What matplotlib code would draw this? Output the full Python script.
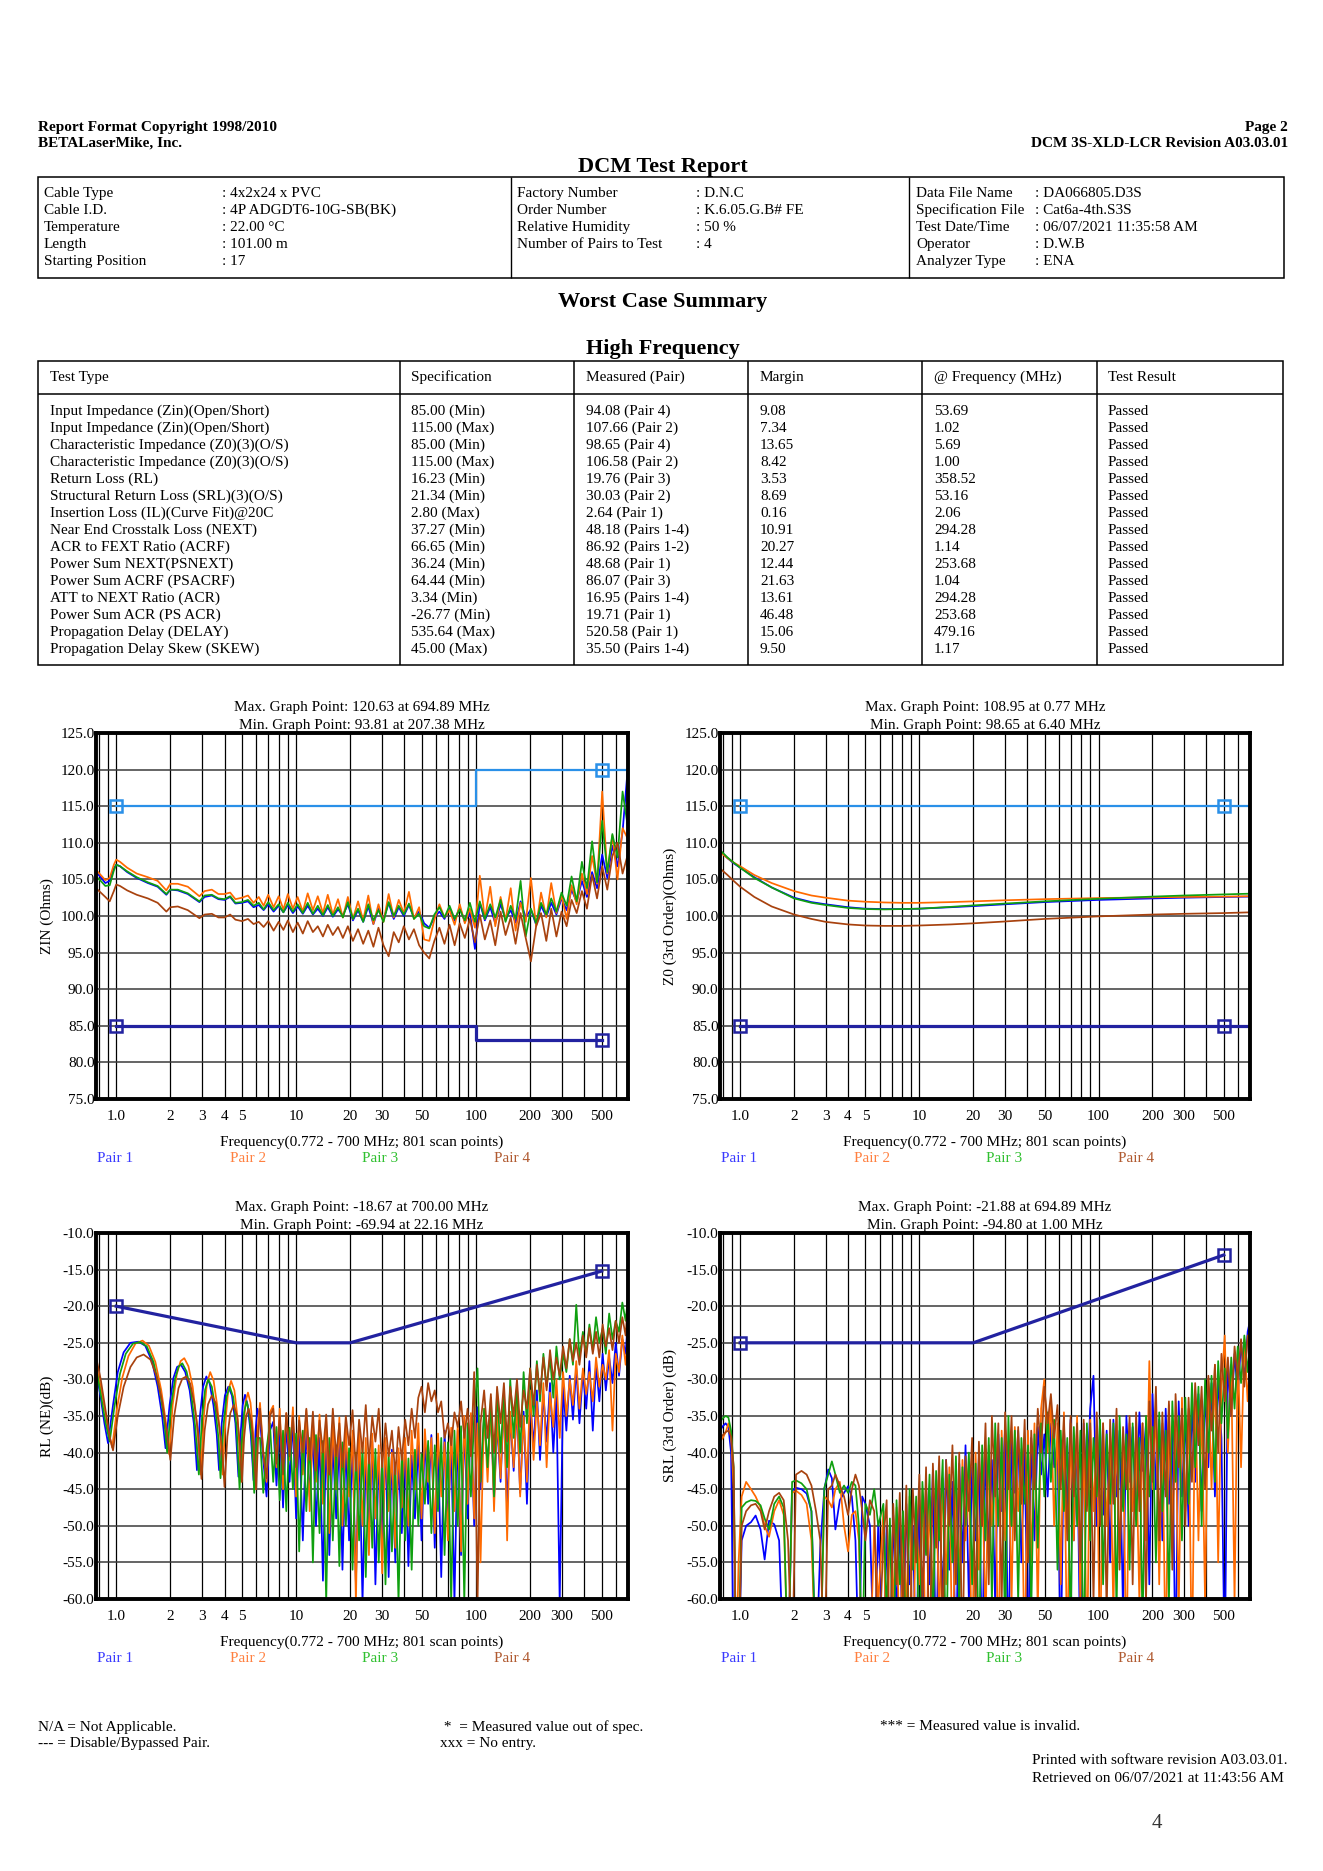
import matplotlib
matplotlib.use('Agg')
import matplotlib.pyplot as plt
from matplotlib.patches import Rectangle
from matplotlib.ticker import NullLocator

plt.rcParams['font.family'] = ['Liberation Serif', 'DejaVu Serif']

# ---------------------------------------------------------------- data
PAIRS = ['Pair 1', 'Pair 2', 'Pair 3', 'Pair 4']

INFO_LEFT = [('Cable Type', ': 4x2x24 x PVC'), ('Cable I.D.', ': 4P ADGDT6-10G-SB(BK)'),
             ('Temperature', ': 22.00 °C'), ('Length', ': 101.00 m'), ('Starting Position', ': 17')]
INFO_MID = [('Factory Number', ': D.N.C'), ('Order Number', ': K.6.05.G.B# FE'),
            ('Relative Humidity', ': 50 %'), ('Number of Pairs to Test', ': 4')]
INFO_RIGHT = [('Data File Name', ': DA066805.D3S'), ('Specification File', ': Cat6a-4th.S3S'),
              ('Test Date/Time', ': 06/07/2021 11:35:58 AM'), ('Operator', ': D.W.B'),
              ('Analyzer Type', ': ENA')]

TABLE_HEAD = ['Test Type', 'Specification', 'Measured (Pair)', 'Margin', '@ Frequency (MHz)', 'Test Result']
TEST_TYPE = ['Input Impedance (Zin)(Open/Short)', 'Input Impedance (Zin)(Open/Short)',
             'Characteristic Impedance (Z0)(3)(O/S)', 'Characteristic Impedance (Z0)(3)(O/S)',
             'Return Loss (RL)', 'Structural Return Loss (SRL)(3)(O/S)',
             'Insertion Loss (IL)(Curve Fit)@20C', 'Near End Crosstalk Loss (NEXT)',
             'ACR to FEXT Ratio (ACRF)', 'Power Sum NEXT(PSNEXT)', 'Power Sum ACRF (PSACRF)',
             'ATT to NEXT Ratio (ACR)', 'Power Sum ACR (PS ACR)', 'Propagation Delay (DELAY)',
             'Propagation Delay Skew (SKEW)']
SPEC = ['85.00 (Min)', '115.00 (Max)', '85.00 (Min)', '115.00 (Max)', '16.23 (Min)', '21.34 (Min)',
        '2.80 (Max)', '37.27 (Min)', '66.65 (Min)', '36.24 (Min)', '64.44 (Min)', '3.34 (Min)',
        '-26.77 (Min)', '535.64 (Max)', '45.00 (Max)']
MEASURED = ['94.08 (Pair 4)', '107.66 (Pair 2)', '98.65 (Pair 4)', '106.58 (Pair 2)', '19.76 (Pair 3)',
            '30.03 (Pair 2)', '2.64 (Pair 1)', '48.18 (Pairs 1-4)', '86.92 (Pairs 1-2)',
            '48.68 (Pair 1)', '86.07 (Pair 3)', '16.95 (Pairs 1-4)', '19.71 (Pair 1)',
            '520.58 (Pair 1)', '35.50 (Pairs 1-4)']
MARGIN = ['9.08', '7.34', '13.65', '8.42', '3.53', '8.69', '0.16', '10.91', '20.27', '12.44',
          '21.63', '13.61', '46.48', '15.06', '9.50']
AT_FREQ = ['53.69', '1.02', '5.69', '1.00', '358.52', '53.16', '2.06', '294.28', '1.14', '253.68',
           '1.04', '294.28', '253.68', '479.16', '1.17']
RESULT = ['Passed'] * 15

XTICKS = [1, 2, 3, 4, 5, 10, 20, 30, 50, 100, 200, 300, 500]
XTICK_LABELS = ['1.0', '2', '3', '4', '5', '10', '20', '30', '50', '100', '200', '300', '500']
GRID_X = [0.8, 0.9, 1, 2, 3, 4, 5, 6, 7, 8, 9, 10, 20, 30, 40, 50, 60, 70, 80, 90,
          100, 200, 300, 400, 500, 600, 700]

# ---- ZIN chart
ZIN_F = [0.772, 0.82, 0.87, 0.92, 0.97, 1.0, 1.05, 1.15, 1.3, 1.5, 1.7, 1.9, 2.0, 2.2, 2.5, 2.9,
         3.1, 3.4, 3.7, 4.0, 4.3, 4.6, 5.0, 5.4, 5.8, 6.2, 6.6, 7.0, 7.5, 8.0, 8.5, 9.0, 9.6,
         10.2, 10.9, 11.6, 12.4, 13.2, 14.1, 15.0, 16.0, 17.1, 18.2, 19.4, 20.7, 22.1, 23.6,
         25.2, 26.9, 28.7, 30.6, 32.7, 34.9, 37.2, 39.7, 42.4, 45.2, 48.3, 51.5, 55.0, 58.7,
         62.6, 66.8, 71.3, 76.1, 81.2, 86.7, 92.5, 98.7, 105, 112, 120, 128, 137, 146, 156,
         166, 177, 189, 202, 216, 230, 246, 262, 280, 299, 319, 340, 363, 388, 414, 442, 471,
         503, 537, 573, 612, 653, 700]
ZIN_P1 = [106.0, 105.3, 104.5, 104.8, 106.5, 107.0, 106.8, 106.0, 105.2, 104.5, 104.0, 102.9, 103.6,
          103.5, 103.0, 101.9, 102.6, 102.8, 102.3, 102.2, 102.6, 101.7, 101.8, 102.0, 101.2, 101.5,
          100.8, 101.6, 100.6, 101.4, 100.5, 101.5, 100.4, 101.3, 100.3, 101.4, 100.2, 101.0, 100.0,
          101.2, 99.9, 100.9, 100.1, 101.6, 99.4, 100.8, 99.2, 101.3, 98.9, 101.0, 99.5, 101.8, 99.6,
          101.2, 100.0, 101.5, 99.8, 100.6, 99.0, 98.4, 99.8, 100.6, 99.6, 101.0, 99.4, 101.2, 99.2,
          100.5, 95.5, 101.8, 99.4, 101.2, 99.0, 101.6, 99.6, 100.8, 99.1, 102.0, 99.8, 100.9, 98.8,
          101.4, 99.9, 101.8, 100.2, 102.4, 100.8, 103.6, 101.9, 104.8, 102.6, 106.0, 103.8, 108.4,
          105.2, 109.6, 106.8, 111.5, 120.6]
ZIN_P2 = [106.3, 105.6, 104.9, 105.2, 107.0, 107.7, 107.4, 106.6, 105.8, 105.3, 104.8, 103.5, 104.4,
          104.4, 104.0, 102.7, 103.4, 103.6, 103.0, 103.0, 103.2, 102.3, 102.5, 102.8, 101.8, 102.6,
          101.4, 102.9, 101.2, 102.7, 100.9, 103.0, 101.0, 102.6, 100.6, 103.1, 100.8, 102.7, 100.4,
          102.9, 100.2, 102.3, 99.8, 102.6, 99.6, 102.0, 99.4, 102.8, 98.9, 101.6, 99.2, 103.0, 99.8,
          102.2, 100.4, 103.3, 99.6, 101.2, 96.8, 96.6, 99.5, 101.6, 99.8, 100.8, 98.8, 101.6, 99.0,
          101.0, 98.4, 105.5, 99.6, 104.0, 98.6, 102.6, 99.4, 103.8, 98.0, 101.8, 99.2, 105.2, 98.6,
          103.2, 99.8, 104.5, 100.4, 102.8, 99.6, 104.2, 101.6, 105.8, 103.0, 108.2, 104.4, 117.0,
          105.8, 111.0, 105.0, 112.0, 110.5]
ZIN_P3 = [105.4, 104.8, 104.1, 104.2, 106.2, 107.0, 106.8, 106.1, 105.3, 104.6, 104.1, 103.0, 103.6,
          103.6, 103.1, 102.0, 102.8, 102.9, 102.4, 102.3, 102.7, 101.8, 101.9, 102.2, 101.4, 101.8,
          100.9, 101.9, 100.8, 101.6, 100.5, 101.8, 100.6, 101.6, 100.4, 101.8, 100.3, 101.4, 100.1,
          101.5, 100.0, 101.2, 99.8, 101.9, 99.6, 101.0, 99.2, 101.6, 99.4, 100.8, 99.2, 101.9, 100.0,
          101.4, 100.2, 101.7, 99.6, 100.3, 98.6, 98.3, 100.2, 101.2, 99.8, 101.4, 99.6, 100.9, 99.4,
          101.8, 99.2, 102.0, 99.6, 101.6, 99.8, 102.2, 99.2, 101.4, 99.6, 104.8, 97.2, 101.0, 99.0,
          101.8, 100.2, 102.4, 100.6, 103.2, 101.4, 105.4, 102.0, 107.4, 103.8, 110.2, 104.6, 113.0,
          106.0, 111.2, 108.0, 117.0, 112.0]
ZIN_P4 = [103.8, 103.2, 102.6, 102.0, 103.4, 104.3, 104.1, 103.5, 102.9, 102.4, 101.8, 100.6, 101.2,
          101.3, 100.8, 99.7, 100.2, 100.3, 99.8, 99.8, 100.2, 99.5, 99.3, 99.6, 98.9, 99.2, 98.5,
          99.3, 98.0, 99.2, 98.1, 99.4, 97.8, 99.1, 97.6, 99.3, 97.8, 98.6, 97.2, 98.8, 97.4, 98.5,
          97.0, 98.6, 96.6, 98.2, 96.2, 98.0, 95.8, 98.4, 96.0, 94.5, 97.8, 96.4, 98.6, 96.8, 98.2,
          96.0, 95.0, 94.2, 96.6, 98.4, 96.2, 98.8, 96.0, 99.0, 97.0, 99.6, 96.4, 100.2, 96.8, 99.4,
          96.0, 100.6, 97.4, 99.8, 96.2, 100.4, 97.0, 93.8, 98.6, 100.4, 96.6, 101.0, 97.2, 100.6,
          98.6, 102.2, 100.4, 103.4, 101.0, 105.6, 102.4, 106.8, 103.6, 108.2, 110.0, 105.8, 108.5]

# ---- Z0 chart
Z0_F = [0.772, 0.85, 0.92, 1.0, 1.2, 1.5, 2.0, 2.5, 3.0, 4.0, 5.0, 6.4, 8.0, 10, 15, 20, 30, 50,
        100, 200, 300, 500, 700]
Z0_P1 = [108.9, 107.9, 107.2, 106.6, 105.3, 103.9, 102.5, 101.9, 101.6, 101.2, 101.0, 100.95, 100.95,
         101.0, 101.2, 101.35, 101.6, 101.9, 102.2, 102.4, 102.5, 102.6, 102.65]
Z0_P2 = [108.7, 107.9, 107.3, 106.8, 105.6, 104.5, 103.4, 102.8, 102.5, 102.1, 101.95, 101.85, 101.8,
         101.8, 101.9, 102.0, 102.15, 102.3, 102.45, 102.55, 102.6, 102.65, 102.7]
Z0_P3 = [109.0, 108.0, 107.3, 106.6, 105.2, 103.9, 102.4, 101.8, 101.5, 101.1, 100.95, 100.9, 100.95,
         101.0, 101.25, 101.45, 101.7, 102.0, 102.35, 102.65, 102.8, 102.95, 103.05]
Z0_P4 = [106.5, 105.6, 104.8, 104.0, 102.6, 101.3, 100.2, 99.6, 99.2, 98.85, 98.7, 98.65, 98.65,
         98.7, 98.85, 99.0, 99.25, 99.6, 99.95, 100.2, 100.3, 100.4, 100.5]

# ---- shared high-frequency scan points (RL and SRL charts)
HF = [6.3, 6.57, 6.85, 7.15, 7.46, 7.78, 8.11, 8.46, 8.82, 9.2,
      9.6, 10.0, 10.4, 10.9, 11.4, 11.9, 12.4, 12.9, 13.5, 14.1,
      14.7, 15.3, 16.0, 16.7, 17.4, 18.1, 18.9, 19.7, 20.6, 21.5,
      22.4, 23.4, 24.4, 25.4, 26.5, 27.6, 28.8, 30.1, 31.4, 32.7,
      34.1, 35.6, 37.1, 38.7, 40.4, 42.1, 43.9, 45.8, 47.8, 49.8,
      52.0, 54.2, 56.5, 59.0, 61.5, 64.1, 66.9, 69.8, 72.8, 75.9,
      79.2, 82.6, 86.1, 89.8, 93.7, 97.7, 102, 106, 111, 116,
      121, 126, 131, 137, 143, 149, 155, 162, 169, 176,
      184, 192, 200, 209, 218, 227, 237, 247, 258, 269,
      280, 292, 305, 318, 332, 346, 361, 376, 393, 410,
      427, 446, 465, 485, 506, 527, 550, 574, 598, 624,
      651, 679, 700]

# ---- RL chart, low-frequency lobes (own scan points per pair)
RL_LF_P1 = [0.772, 0.82, 0.86, 0.90, 0.96, 1.02, 1.10, 1.20, 1.33, 1.45, 1.58, 1.70, 1.80, 1.88,
            1.98, 2.08, 2.18, 2.29, 2.42, 2.56, 2.70, 2.81, 2.92, 3.04, 3.17, 3.31, 3.47, 3.62,
            3.73, 3.86, 4.02, 4.20, 4.40, 4.60, 4.78, 4.93, 5.05, 5.20, 5.38, 5.60, 5.80, 5.95, 6.10]
RL_LV_P1 = [-28.7, -32.5, -36.0, -38.7, -33.5, -29.0, -26.3, -25.0, -24.85, -25.4, -27.5, -31.0,
            -35.0, -39.4, -33.5, -29.8, -28.3, -28.0, -29.0, -31.5, -36.0, -42.4, -35.0, -31.0,
            -29.6, -30.6, -33.5, -37.5, -42.4, -36.0, -32.2, -31.0, -32.2, -36.0, -43.3, -37.0,
            -33.5, -32.1, -33.5, -37.5, -43.8, -37.0, -34.0]
RL_LF_P2 = [0.772, 0.82, 0.87, 0.91, 0.95, 1.01, 1.08, 1.17, 1.28, 1.40, 1.52, 1.65, 1.78, 1.88,
            1.97, 2.06, 2.17, 2.28, 2.39, 2.52, 2.66, 2.81, 2.95, 3.07, 3.19, 3.33, 3.48, 3.64,
            3.78, 3.90, 4.04, 4.19, 4.35, 4.54, 4.74, 4.95, 5.10, 5.24, 5.40, 5.58, 5.78, 5.95, 6.12]
RL_LV_P2 = [-28.0, -31.0, -34.5, -37.5, -39.3, -34.0, -29.8, -26.8, -25.1, -24.7, -25.4, -27.6,
            -31.5, -35.5, -40.2, -33.5, -29.3, -27.5, -27.1, -28.2, -31.0, -36.0, -43.0, -35.0,
            -30.6, -29.0, -30.2, -33.5, -37.5, -43.0, -36.0, -31.6, -30.2, -31.5, -35.5, -44.0,
            -37.0, -33.0, -31.8, -33.2, -37.5, -45.0, -36.5]
RL_LF_P3 = [0.772, 0.82, 0.87, 0.92, 0.98, 1.05, 1.13, 1.24, 1.36, 1.48, 1.61, 1.74, 1.84, 1.92,
            2.02, 2.12, 2.22, 2.33, 2.46, 2.60, 2.75, 2.88, 3.00, 3.12, 3.25, 3.40, 3.56, 3.70,
            3.80, 3.94, 4.10, 4.28, 4.47, 4.67, 4.85, 5.00, 5.14, 5.30, 5.48, 5.68, 5.85, 6.02]
RL_LV_P3 = [-28.4, -32.0, -35.8, -38.5, -33.5, -29.2, -26.5, -25.1, -24.9, -25.5, -27.6, -31.3,
            -35.2, -40.0, -33.6, -30.0, -28.3, -27.8, -28.9, -31.6, -36.5, -43.0, -35.2, -31.4,
            -30.0, -31.0, -34.0, -38.0, -43.5, -36.5, -32.4, -31.0, -32.4, -36.5, -45.0, -38.0,
            -34.5, -33.0, -34.5, -38.5, -45.5, -38.0]
RL_LF_P4 = [0.772, 0.82, 0.87, 0.92, 0.96, 1.02, 1.10, 1.20, 1.30, 1.42, 1.55, 1.68, 1.80, 1.90,
            2.00, 2.10, 2.22, 2.33, 2.45, 2.58, 2.72, 2.86, 2.98, 3.10, 3.24, 3.40, 3.57, 3.75,
            3.88, 4.00, 4.15, 4.31, 4.50, 4.70, 4.86, 5.00, 5.14, 5.28, 5.45, 5.64, 5.82, 6.00, 6.15]
RL_LV_P4 = [-26.9, -30.0, -34.0, -37.8, -39.7, -35.0, -31.0, -28.3, -27.0, -26.6, -27.3, -29.6,
            -33.0, -36.8, -41.0, -35.0, -31.2, -29.9, -29.6, -30.6, -33.4, -37.5, -43.6, -37.0,
            -33.4, -32.2, -33.2, -36.6, -39.5, -44.7, -37.8, -34.6, -33.5, -35.0, -38.5, -44.0,
            -38.0, -35.0, -34.0, -35.8, -39.5, -45.0, -38.0]
# RL chart, high-frequency part on HF scan points
RL_HV_P1 = [-35.5, -41.0, -46.0, -37.0, -35.8, -44.5, -36.2, -47.5, -36.0, -44.0,
            -35.6, -49.0, -37.0, -52.0, -36.4, -46.0, -37.5, -50.0, -38.0, -57.5,
            -37.2, -54.0, -38.6, -49.0, -37.8, -56.0, -38.4, -52.0, -39.0, -58.0,
            -38.2, -60.5, -40.0, -51.0, -38.5, -58.0, -40.5, -53.0, -39.0, -57.0,
            -39.6, -55.0, -41.0, -51.0, -39.0, -55.5, -40.4, -49.0, -38.6, -52.0,
            -38.0, -47.0, -37.6, -53.0, -38.8, -57.0, -37.0, -50.0, -38.4, -60.5,
            -37.0, -54.0, -36.4, -49.0, -35.0, -50.0, -33.8, -45.0, -35.0, -42.0,
            -34.0, -46.5, -36.0, -44.0, -33.0, -48.0, -35.0, -42.5, -33.6, -45.5,
            -34.4, -47.0, -33.0, -39.0, -31.5, -41.0, -32.0, -38.5, -30.5, -40.0,
            -32.0, -60.5, -31.0, -37.0, -29.5, -35.5, -28.5, -36.0, -29.0, -34.0,
            -27.5, -37.0, -28.0, -33.0, -26.5, -31.5, -27.0, -30.5, -25.0, -29.5,
            -24.5, -26.5, -21.5]
RL_HV_P2 = [-33.2, -40.0, -44.0, -34.5, -33.6, -42.0, -34.0, -45.0, -34.6, -41.0,
            -33.8, -46.0, -35.0, -43.0, -34.2, -48.0, -35.6, -44.0, -34.8, -47.0,
            -35.4, -51.0, -36.0, -45.0, -35.2, -50.0, -36.4, -46.0, -37.0, -60.5,
            -36.6, -50.0, -38.0, -54.0, -37.4, -49.0, -39.0, -56.5, -38.0, -48.0,
            -40.0, -53.0, -39.4, -47.5, -38.0, -50.0, -37.0, -45.0, -36.0, -49.0,
            -36.8, -44.0, -38.0, -51.0, -37.4, -46.0, -38.6, -52.0, -36.6, -48.0,
            -36.0, -53.5, -35.0, -47.0, -34.6, -49.0, -36.0, -55.0, -34.0, -44.0,
            -33.4, -48.0, -35.0, -43.5, -32.5, -52.0, -34.4, -42.0, -33.0, -46.0,
            -35.0, -44.0, -31.5, -41.0, -33.0, -39.0, -30.5, -42.0, -31.8, -36.5,
            -30.0, -38.0, -29.0, -35.0, -30.0, -33.5, -27.5, -34.0, -28.5, -32.0,
            -29.0, -33.0, -27.0, -31.0, -28.0, -30.0, -26.0, -37.0, -26.5, -29.0,
            -24.0, -28.0, -24.5]
RL_HV_P3 = [-38.0, -45.5, -39.5, -36.0, -44.0, -36.5, -46.5, -37.0, -48.0, -36.6,
            -45.0, -37.4, -53.5, -37.0, -48.0, -38.0, -55.0, -37.6, -51.0, -38.4,
            -60.5, -38.0, -52.0, -39.0, -55.5, -38.6, -50.0, -39.4, -56.0, -40.0,
            -52.0, -39.0, -57.0, -40.6, -53.0, -39.5, -55.0, -41.0, -58.0, -40.0,
            -53.5, -41.4, -60.5, -40.0, -52.0, -40.8, -56.0, -39.6, -50.0, -40.2,
            -47.0, -38.4, -51.0, -39.0, -48.0, -38.0, -54.0, -38.6, -60.5, -37.0,
            -50.0, -36.4, -60.5, -36.0, -46.0, -35.0, -28.5, -44.0, -34.0, -42.0,
            -32.5, -46.0, -31.5, -40.0, -32.0, -42.0, -30.0, -38.0, -31.0, -40.0,
            -29.0, -36.0, -28.5, -35.0, -27.5, -33.0, -26.5, -31.0, -27.0, -32.5,
            -25.5, -30.0, -26.5, -29.0, -24.5, -28.0, -19.8, -27.0, -23.5, -26.5,
            -22.5, -26.0, -21.5, -25.0, -23.0, -26.5, -21.0, -24.5, -22.0, -23.5,
            -19.5, -22.0, -18.7]
RL_HV_P4 = [-34.0, -40.0, -43.5, -35.0, -34.0, -41.5, -35.0, -43.0, -34.6, -40.5,
            -35.0, -42.0, -35.6, -40.0, -34.0, -41.0, -34.4, -42.5, -35.6, -40.0,
            -34.8, -43.0, -34.0, -40.5, -36.0, -42.0, -35.0, -39.0, -34.2, -42.5,
            -35.5, -40.0, -33.5, -41.5, -35.0, -38.5, -34.0, -42.0, -36.0, -40.5,
            -37.0, -43.0, -36.5, -41.0, -35.5, -39.0, -34.0, -38.0, -32.5, -31.0,
            -34.5, -30.5, -33.0, -31.5, -34.5, -33.0, -38.0, -36.0, -39.0, -34.5,
            -36.5, -33.0, -38.0, -34.0, -40.5, -29.0, -60.5, -36.0, -31.5, -38.0,
            -32.0, -40.0, -31.0, -36.0, -30.5, -38.5, -31.0, -35.0, -30.0, -36.5,
            -31.5, -34.0, -28.5, -33.5, -28.0, -32.0, -27.0, -31.5, -26.0, -30.0,
            -27.0, -29.5, -25.5, -28.5, -24.5, -27.5, -25.0, -28.0, -24.0, -27.0,
            -23.0, -26.5, -23.5, -27.0, -22.5, -25.5, -23.0, -26.0, -22.0, -25.0,
            -21.5, -24.0, -19.0]

# ---- SRL chart, low-frequency scan points (shared)
SRL_LF = [0.772, 0.80, 0.83, 0.86, 0.89, 0.92, 0.95, 0.98, 1.02, 1.08, 1.15, 1.22, 1.30, 1.37,
          1.45, 1.55, 1.65, 1.75, 1.85, 1.95, 2.05, 2.2, 2.35, 2.5, 2.65, 2.8, 2.95, 3.1, 3.25,
          3.4, 3.6, 3.8, 4.0, 4.2, 4.4, 4.6, 4.8, 5.0, 5.3, 5.6, 5.9]
SRL_LV_P1 = [-37.0, -36.4, -36.0, -36.5, -40.0, -70.0, -70.0, -70.0, -52.0, -50.0, -49.5, -48.6,
             -50.5, -54.6, -49.3, -49.8, -52.0, -70.0, -70.0, -45.2, -44.8, -45.0, -45.6, -48.0,
             -70.0, -53.0, -45.0, -42.3, -43.5, -50.5, -46.5, -45.5, -44.6, -46.0, -52.0, -70.0,
             -46.0, -47.0, -50.0, -70.0, -49.5]
SRL_LV_P2 = [-38.5, -38.0, -37.2, -36.0, -37.5, -45.0, -70.0, -55.0, -46.0, -44.0, -45.0, -46.0,
             -47.5, -50.0, -51.5, -48.0, -46.5, -48.5, -70.0, -45.5, -45.2, -45.8, -47.0, -52.0,
             -70.0, -70.0, -46.0, -46.5, -47.5, -45.0, -44.0, -50.0, -53.5, -48.5, -48.0, -52.0,
             -70.0, -70.0, -70.0, -50.0, -60.5]
SRL_LV_P3 = [-35.8, -35.3, -35.0, -35.2, -37.0, -42.0, -70.0, -70.0, -47.5, -46.8, -46.5, -46.6,
             -47.2, -49.0, -50.5, -47.0, -46.0, -47.5, -70.0, -44.0, -43.8, -44.2, -45.0, -48.0,
             -70.0, -70.0, -44.8, -43.0, -41.2, -43.0, -45.5, -44.5, -45.5, -44.0, -44.5, -50.0,
             -70.0, -47.0, -48.5, -45.0, -50.0]
SRL_LV_P4 = [-38.0, -37.6, -37.2, -37.0, -37.8, -42.0, -70.0, -70.0, -50.0, -48.0, -47.2, -47.0,
             -48.0, -50.5, -48.0, -46.0, -45.5, -46.5, -52.0, -70.0, -43.0, -42.5, -43.0, -44.5,
             -48.0, -52.0, -70.0, -45.0, -44.5, -43.0, -44.5, -46.0, -48.5, -45.0, -43.0, -44.5,
             -48.0, -52.0, -46.5, -48.0, -70.0]
# SRL chart, high-frequency part on HF scan points
SRL_HV_P1 = [-70, -50.0, -70, -48.5, -62, -49.5, -70, -47.0, -58.0, -50.0,
             -70, -46.5, -65, -44.5, -58.0, -42.5, -70, -45.0, -60.5, -41.0,
             -56.0, -44.0, -70, -41.5, -55.0, -39.0, -60.5, -42.0, -52.0, -40.5,
             -70, -39.5, -53.0, -41.0, -61.0, -37.5, -48.0, -36.5, -70, -38.0,
             -45.5, -37.0, -55.0, -39.0, -70, -38.0, -52.0, -36.5, -43.0, -37.5,
             -46.0, -36.0, -42.0, -38.5, -70, -36.5, -48.0, -35.5, -52.0, -37.0,
             -70, -36.0, -45.0, -34.0, -29.5, -50.0, -36.5, -48.5, -37.0, -55.0,
             -35.5, -46.0, -37.0, -62.0, -35.0, -44.0, -36.5, -49.0, -34.5, -42.5,
             -36.0, -58.0, -32.0, -45.0, -35.5, -52.0, -34.0, -47.0, -36.5, -70,
             -33.0, -46.0, -35.0, -50.0, -33.5, -44.0, -32.0, -48.0, -31.5, -42.0,
             -30.5, -46.0, -29.5, -38.0, -70, -27.5, -35.0, -26.5, -32.0, -25.0,
             -30.0, -23.5, -22.0]
SRL_HV_P2 = [-48.0, -70, -50.0, -60.5, -47.5, -70, -48.5, -62, -46.0, -70,
             -47.0, -58.0, -45.0, -70, -46.0, -60.5, -44.0, -63, -43.5, -58.0,
             -42.0, -70, -44.5, -57.0, -41.0, -52.0, -43.5, -70, -40.0, -56.0,
             -41.5, -64, -39.0, -50.0, -40.5, -70, -37.0, -52.0, -38.5, -60.5,
             -36.5, -48.0, -39.5, -70, -37.0, -55.0, -36.0, -62, -34.0, -30.0,
             -40.0, -33.0, -50.0, -36.0, -58.0, -34.5, -70, -36.0, -52.0, -35.0,
             -61, -37.0, -70, -35.5, -48.0, -37.0, -70, -36.0, -50.0, -38.0,
             -62, -35.0, -55.0, -37.5, -70, -36.0, -48.0, -39.0, -60.5, -36.0,
             -52.0, -27.5, -45.0, -34.0, -58.0, -36.0, -70, -33.5, -50.0, -35.0,
             -62, -32.5, -48.0, -34.0, -70, -31.5, -52.0, -33.0, -60.5, -30.0,
             -45.0, -28.0, -55.0, -31.0, -24.0, -40.0, -28.0, -60.5, -26.0, -42.0,
             -24.5, -33.0, -27.5]
SRL_HV_P3 = [-47.0, -62, -49.0, -70, -46.5, -58.0, -48.0, -70, -45.0, -56.0,
             -46.0, -70, -44.0, -54.0, -43.0, -65, -42.5, -52.0, -41.0, -70,
             -43.0, -55.0, -40.5, -62, -42.0, -50.0, -40.0, -58.0, -41.5, -70,
             -39.0, -52.0, -38.0, -60.5, -36.0, -50.0, -38.0, -65, -35.0, -50.0,
             -37.0, -60.5, -38.0, -47.0, -39.0, -62, -37.5, -53.0, -36.0, -46.0,
             -34.5, -44.0, -35.5, -56.0, -37.0, -48.0, -38.0, -64, -36.5, -50.0,
             -37.0, -70, -36.0, -52.0, -38.0, -46.0, -35.5, -58.0, -37.5, -47.0,
             -36.0, -62, -35.0, -48.0, -37.5, -56.0, -36.0, -50.0, -38.0, -64,
             -35.0, -46.0, -36.5, -55.0, -34.5, -48.0, -37.0, -60.5, -33.0, -44.0,
             -35.0, -52.0, -32.5, -47.0, -30.5, -42.0, -31.0, -50.0, -30.0, -40.0,
             -29.5, -44.0, -27.5, -36.0, -28.5, -38.0, -27.0, -34.0, -25.5, -30.5,
             -24.0, -29.0, -25.0]
SRL_HV_P4 = [-52.0, -46.5, -70, -47.0, -58.0, -45.5, -62, -44.5, -70, -45.0,
             -55.0, -43.0, -60.5, -42.0, -70, -41.5, -53.0, -40.5, -65, -41.0,
             -50.0, -39.0, -58.0, -40.0, -70, -40.5, -48.0, -38.0, -62, -38.5,
             -50.0, -36.0, -58.0, -35.0, -46.0, -36.0, -60.5, -34.5, -45.0, -35.0,
             -52.0, -36.5, -47.0, -35.5, -55.0, -37.0, -45.0, -34.0, -40.0, -31.0,
             -36.0, -32.0, -38.0, -33.5, -45.0, -35.0, -52.0, -35.0, -46.0, -36.0,
             -55.0, -35.5, -48.0, -36.0, -60.5, -34.5, -50.0, -36.0, -62, -35.5,
             -47.0, -34.0, -56.0, -36.5, -45.0, -35.0, -58.0, -34.5, -48.0, -36.0,
             -60.5, -33.0, -44.0, -31.0, -52.0, -34.5, -46.0, -33.0, -56.0, -32.0,
             -42.0, -34.0, -50.0, -32.5, -44.0, -30.5, -39.0, -31.0, -45.0, -29.5,
             -37.0, -28.0, -40.0, -26.5, -33.0, -27.0, -35.0, -25.5, -30.0, -24.5,
             -31.0, -24.0, -26.0]

# spec limit lines (frequency, value) and marker points
ZIN_UP_F, ZIN_UP_V = [1, 100, 100, 700], [115, 115, 120, 120]
ZIN_UP_MF, ZIN_UP_MV = [1, 500], [115, 120]
ZIN_LO_F, ZIN_LO_V = [1, 100, 100, 500], [85, 85, 83, 83]
ZIN_LO_MF, ZIN_LO_MV = [1, 500], [85, 83]
Z0_UP_F, Z0_UP_V = [1, 700], [115, 115]
Z0_LO_F, Z0_LO_V = [1, 700], [85, 85]
Z0_MF, Z0_UP_MV, Z0_LO_MV = [1, 500], [115, 115], [85, 85]
RL_LIM_F, RL_LIM_V = [1, 10, 20, 500], [-20, -25, -25, -15.2]
RL_LIM_MF, RL_LIM_MV = [1, 500], [-20, -15.2]
SRL_LIM_F, SRL_LIM_V = [1, 20, 500], [-25, -25, -13]
SRL_LIM_MF, SRL_LIM_MV = [1, 500], [-25, -13]

# ---------------------------------------------------------------- style
W, H = 1323, 1871
C_PAIR = ['#0000ff', '#ff6a00', '#10a010', '#a8420e']
C_LEG = ['#3a3aff', '#ff8040', '#30c030', '#b05a30']
C_UP = '#2a90e8'
C_LO = '#2222a0'
FS = 11

fig = plt.figure(figsize=(W / 100, H / 100), dpi=100)
bg = fig.add_axes([0, 0, 1, 1], zorder=0)
bg.set_xlim(0, W)
bg.set_ylim(H, 0)
bg.axis('off')


def txt(x, y, s, size=FS, ha='left', va='center', weight='normal', color='black', rot=0):
    bg.text(x, y, s, fontsize=size, ha=ha, va=va, fontweight=weight, color=color, rotation=rot)


def hline(x0, x1, y, lw=1.0):
    bg.plot([x0, x1], [y, y], color='black', lw=lw, solid_capstyle='butt')


def vline(x, y0, y1, lw=1.0):
    bg.plot([x, x], [y0, y1], color='black', lw=lw, solid_capstyle='butt')


# ---------------------------------------------------------------- header
txt(38, 127, 'Report Format Copyright 1998/2010', FS, weight='bold')
txt(38, 143, 'BETALaserMike, Inc.', FS, weight='bold')
txt(1288, 127, 'Page 2', FS, ha='right', weight='bold')
txt(1288, 143, 'DCM 3S-XLD-LCR Revision A03.03.01', FS, ha='right', weight='bold')
txt(663, 167, 'DCM Test Report', 16, ha='center', weight='bold')

bg.add_patch(Rectangle((38, 177), 1246, 101, fill=False, lw=1.1, ec='black'))
vline(511, 177, 278)
vline(909, 177, 278)
for i, (a, b) in enumerate(INFO_LEFT):
    y = 193 + i * 17.1
    txt(44, y, a)
    txt(222, y, b)
for i, (a, b) in enumerate(INFO_MID):
    y = 193 + i * 17.1
    txt(517, y, a)
    txt(696, y, b)
for i, (a, b) in enumerate(INFO_RIGHT):
    y = 193 + i * 17.1
    txt(916, y, a)
    txt(1035, y, b)

txt(663, 302, 'Worst Case Summary', 16, ha='center', weight='bold')
txt(663, 349, 'High Frequency', 16, ha='center', weight='bold')

# ---------------------------------------------------------------- table
bg.add_patch(Rectangle((38, 361), 1245, 304, fill=False, lw=1.1, ec='black'))
hline(38, 1283, 394, 1.1)
for x in [400, 574, 748, 922, 1097]:
    vline(x, 361, 665, 1.1)
COL_X = [50, 411, 586, 760, 934, 1108]
for x, h in zip(COL_X, TABLE_HEAD):
    txt(x, 377, h)
cols = [TEST_TYPE, SPEC, MEASURED, MARGIN, AT_FREQ, RESULT]
for i in range(len(TEST_TYPE)):
    y = 411 + i * 17.02
    for x, col in zip(COL_X, cols):
        txt(x, y, col[i])


# ---------------------------------------------------------------- charts
def make_chart(box, ylim, yticks, ylabel, ylabel_x, t1, t2, series, limits):
    x0, y0, x1, y1 = box
    ax = fig.add_axes([x0 / W, 1 - y1 / H, (x1 - x0) / W, (y1 - y0) / H], zorder=2)
    ax.set_facecolor('none')
    ax.set_xscale('log')
    ax.set_xlim(0.772, 700)
    ax.set_ylim(*ylim)
    for g in GRID_X:
        ax.axvline(g, color='black', lw=0.9, zorder=1)
    for yv in yticks:
        ax.axhline(yv, color='#3a3a3a', lw=1.1, zorder=1)
    ax.set_xticks(XTICKS)
    ax.set_xticklabels(XTICK_LABELS)
    ax.xaxis.set_minor_locator(NullLocator())
    ax.set_yticks(yticks)
    ax.set_yticklabels(['%.1f' % v for v in yticks])
    ax.tick_params(axis='both', length=0, labelsize=FS)
    ax.tick_params(axis='x', pad=8)
    ax.tick_params(axis='y', pad=1)
    for sp in ax.spines.values():
        sp.set_linewidth(2.8)
        sp.set_zorder(5)
    for (f, v), c in zip(series, C_PAIR):
        ax.plot(f, v, color=c, lw=1.25, zorder=3, solid_joinstyle='round')
    for (f, v, mf, mv, c, lw) in limits:
        ax.plot(f, v, color=c, lw=lw, zorder=4)
        ax.plot(mf, mv, ls='none', marker='s', ms=9, mfc='none', mec=c, mew=1.8, zorder=4)
    cx = (x0 + x1) / 2
    txt(cx, y0 - 25, t1, FS, ha='center')
    txt(cx, y0 - 8, t2, FS, ha='center')
    txt(ylabel_x, (y0 + y1) / 2, ylabel, FS, ha='center', rot=90)
    txt(cx, y1 + 43, 'Frequency(0.772 - 700 MHz; 801 scan points)', FS, ha='center')
    for k, (p, c) in enumerate(zip(PAIRS, C_LEG)):
        txt(x0 + 1 + k * 132.5, y1 + 59, p, FS, color=c)
    return ax


Z_TICKS = [75.0, 80.0, 85.0, 90.0, 95.0, 100.0, 105.0, 110.0, 115.0, 120.0, 125.0]
DB_TICKS = [-60.0, -55.0, -50.0, -45.0, -40.0, -35.0, -30.0, -25.0, -20.0, -15.0, -10.0]

make_chart((96, 733, 628, 1099), (75, 125), Z_TICKS, 'ZIN (Ohms)', 47,
           'Max. Graph Point: 120.63 at 694.89 MHz', 'Min. Graph Point: 93.81 at 207.38 MHz',
           [(ZIN_F, ZIN_P1), (ZIN_F, ZIN_P2), (ZIN_F, ZIN_P3), (ZIN_F, ZIN_P4)],
           [(ZIN_UP_F, ZIN_UP_V, ZIN_UP_MF, ZIN_UP_MV, C_UP, 1.6),
            (ZIN_LO_F, ZIN_LO_V, ZIN_LO_MF, ZIN_LO_MV, C_LO, 2.3)])

make_chart((720, 733, 1250, 1099), (75, 125), Z_TICKS, 'Z0 (3rd Order)(Ohms)', 670,
           'Max. Graph Point: 108.95 at 0.77 MHz', 'Min. Graph Point: 98.65 at 6.40 MHz',
           [(Z0_F, Z0_P1), (Z0_F, Z0_P2), (Z0_F, Z0_P3), (Z0_F, Z0_P4)],
           [(Z0_UP_F, Z0_UP_V, Z0_MF, Z0_UP_MV, C_UP, 1.6),
            (Z0_LO_F, Z0_LO_V, Z0_MF, Z0_LO_MV, C_LO, 2.3)])

make_chart((96, 1233, 628, 1599), (-60, -10), DB_TICKS, 'RL (NE)(dB)', 47,
           'Max. Graph Point: -18.67 at 700.00 MHz', 'Min. Graph Point: -69.94 at 22.16 MHz',
           [(RL_LF_P1 + HF, RL_LV_P1 + RL_HV_P1), (RL_LF_P2 + HF, RL_LV_P2 + RL_HV_P2),
            (RL_LF_P3 + HF, RL_LV_P3 + RL_HV_P3), (RL_LF_P4 + HF, RL_LV_P4 + RL_HV_P4)],
           [(RL_LIM_F, RL_LIM_V, RL_LIM_MF, RL_LIM_MV, C_LO, 2.3)])

make_chart((720, 1233, 1250, 1599), (-60, -10), DB_TICKS, 'SRL (3rd Order) (dB)', 670,
           'Max. Graph Point: -21.88 at 694.89 MHz', 'Min. Graph Point: -94.80 at 1.00 MHz',
           [(SRL_LF + HF, SRL_LV_P1 + SRL_HV_P1), (SRL_LF + HF, SRL_LV_P2 + SRL_HV_P2),
            (SRL_LF + HF, SRL_LV_P3 + SRL_HV_P3), (SRL_LF + HF, SRL_LV_P4 + SRL_HV_P4)],
           [(SRL_LIM_F, SRL_LIM_V, SRL_LIM_MF, SRL_LIM_MV, C_LO, 2.3)])

# ---------------------------------------------------------------- footer
txt(38, 1727, 'N/A = Not Applicable.')
txt(38, 1743, '--- = Disable/Bypassed Pair.')
txt(440, 1727, ' *  = Measured value out of spec.')
txt(440, 1743, 'xxx = No entry.')
txt(880, 1727, '*** = Measured value is invalid.')
txt(1032, 1760, 'Printed with software revision A03.03.01.')
txt(1032, 1778, 'Retrieved on 06/07/2021 at 11:43:56 AM')
txt(1157, 1823, '4', 15, ha='center', color='#333333')

fig.savefig('out.png', dpi=100)
